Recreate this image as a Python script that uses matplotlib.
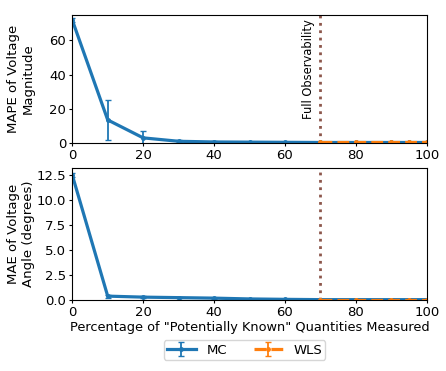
import matplotlib
matplotlib.use("Agg")
import matplotlib.pyplot as plt

# percentage of potentially known quantities measured
mc_x = [0, 10, 20, 30, 40, 50, 60, 70, 80, 90, 95, 100]
wls_x = [70, 80, 90, 95, 100]

mc_mag = [72, 13.5, 3.0, 1.0, 0.6, 0.5, 0.4, 0.3, 0.3, 0.3, 0.3, 0.3]
mc_mag_err = [1.0, 11.5, 4.0, 0.6, 0.3, 0.2, 0.2, 0.1, 0.1, 0.1, 0.1, 0.1]
wls_mag = [0.6, 0.6, 0.6, 0.6, 0.6]
wls_mag_err = [0.2, 0.2, 0.2, 0.2, 0.2]

mc_ang = [12.5, 0.4, 0.3, 0.25, 0.2, 0.12, 0.08, 0.05, 0.05, 0.05, 0.05, 0.05]
mc_ang_err = [0.2, 0.15, 0.1, 0.08, 0.06, 0.04, 0.03, 0.02, 0.02, 0.02, 0.02, 0.02]
wls_ang = [0.05, 0.05, 0.05, 0.05, 0.05]
wls_ang_err = [0.02, 0.02, 0.02, 0.02, 0.02]

fig, (ax1, ax2) = plt.subplots(2, 1, figsize=(4.46, 3.71), dpi=100,
                               gridspec_kw={'height_ratios': [128, 132]})
fig.subplots_adjust(left=0.162, right=0.957, top=0.96, bottom=0.191, hspace=0.192)

for ax, mc, mce, wl, wle in [(ax1, mc_mag, mc_mag_err, wls_mag, wls_mag_err),
                             (ax2, mc_ang, mc_ang_err, wls_ang, wls_ang_err)]:
    ax.errorbar(mc_x, mc, yerr=mce, color='tab:blue', lw=2.3, marker='.', ms=5,
                elinewidth=1.3, capsize=2.5, label='MC')
    ax.errorbar(wls_x, wl, yerr=wle, color='tab:orange', lw=2.3, ls='--', marker='.', ms=5,
                elinewidth=1.3, capsize=2.5, label='WLS')
    ax.axvline(70, color='tab:brown', ls=':', lw=2)
    ax.set_xlim(0, 100)
    ax.tick_params(length=2.5, pad=2, labelsize=9.5)

ax1.set_ylim(0, 75)
ax1.set_yticks([0, 20, 40, 60])
ax2.set_ylim(0, 13.2)
ax2.set_yticks([0, 2.5, 5, 7.5, 10, 12.5])
ax1.set_ylabel("MAPE of Voltage\nMagnitude", fontsize=9.5)
ax2.set_ylabel("MAE of Voltage\nAngle (degrees)", fontsize=9.5)
ax1.yaxis.set_label_coords(-0.105, 0.5)
ax2.yaxis.set_label_coords(-0.105, 0.5)
ax2.set_xlabel('Percentage of "Potentially Known" Quantities Measured', fontsize=9.3, labelpad=1)
ax1.text(68.5, 72.5, "Full Observability", rotation=90, ha='right', va='top', fontsize=8.3)

handles, labels = ax2.get_legend_handles_labels()
fig.legend(handles, labels, loc='lower center', ncol=2, bbox_to_anchor=(0.548, 0.012),
           fontsize=9.5, borderpad=0.25, handlelength=2.2, columnspacing=2.0)

fig.savefig("out.png")
